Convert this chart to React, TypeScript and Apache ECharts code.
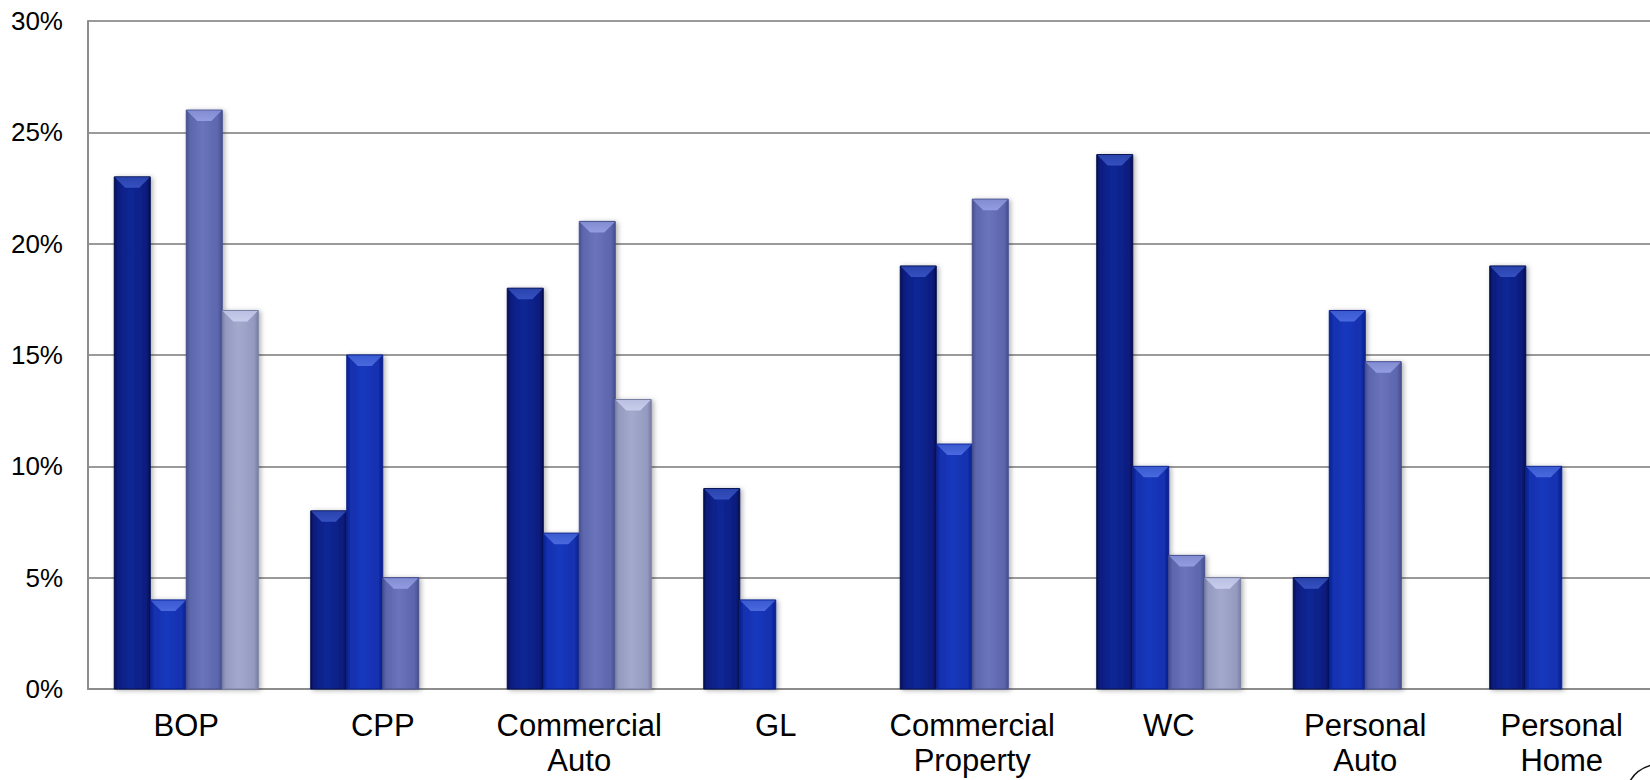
import React, { useEffect, useRef } from "react";
import * as echarts from "echarts";

// Lines of business on the category axis
const categories = [
  "BOP",
  "CPP",
  "Commercial\nAuto",
  "GL",
  "Commercial\nProperty",
  "WC",
  "Personal\nAuto",
  "Personal\nHome",
];

// Percent values per series (null = no bar drawn)
const seriesA: (number | null)[] = [23, 8, 18, 9, 19, 24, 5, 19];
const seriesB: (number | null)[] = [4, 15, 7, 4, 11, 10, 17, 10];
const seriesC: (number | null)[] = [26, 5, 21, null, 22, 6, 14.7, null];
const seriesD: (number | null)[] = [17, null, 13, null, null, 5, null, null];

// Value-axis ticks (percent)
const yTicks = [0, 5, 10, 15, 20, 25, 30];

type Palette = {
  edge: string;
  body: string;
  light: string;
  bevelTop: string;
  bevelBottom: string;
};

const palettes: Palette[] = [
  { edge: "#05104f", body: "#0a1d80", light: "#112795", bevelTop: "#2a44ad", bevelBottom: "#3550c0" },
  { edge: "#0a1f8c", body: "#1230ae", light: "#1838bd", bevelTop: "#3a5ad0", bevelBottom: "#4a69de" },
  { edge: "#464f8f", body: "#5c66ac", light: "#6a74bb", bevelTop: "#828cd2", bevelBottom: "#929cdf" },
  { edge: "#787fa6", body: "#959bc0", light: "#a3a9cc", bevelTop: "#bac0e2", bevelBottom: "#c8cdec" },
];

const allSeries = [seriesA, seriesB, seriesC, seriesD];
const seriesNames = ["A", "B", "C", "D"];

// Bar width as a share of one category band, and slot count per band
const BAR_SHARE = 36 / 196.5;
const SLOTS = 4;

function makeRenderItem(slot: number, pal: Palette) {
  return (_params: any, api: any) => {
    const cat = api.value(0);
    const val = api.value(1);
    const top = api.coord([cat, val]);
    const base = api.coord([cat, 0]);
    const band = api.size([1, 0])[0];
    const w = band * BAR_SHARE;
    const x0 = top[0] + (slot - (SLOTS - 1) / 2) * w - w / 2;
    const yTop = top[1];
    const yBase = base[1];
    const h = yBase - yTop;
    const b = Math.max(0, Math.min(11, h / 2, w / 2 - 3));
    return {
      type: "group",
      children: [
        {
          type: "rect",
          shape: { x: x0, y: yTop, width: w, height: h },
          style: {
            fill: {
              type: "linear",
              x: 0,
              y: 0,
              x2: 1,
              y2: 0,
              colorStops: [
                { offset: 0, color: pal.edge },
                { offset: 0.1, color: pal.body },
                { offset: 0.45, color: pal.light },
                { offset: 0.88, color: pal.body },
                { offset: 1, color: pal.edge },
              ],
            },
            stroke: pal.edge,
            lineWidth: 1,
            shadowBlur: 5,
            shadowOffsetX: 2,
            shadowOffsetY: 1,
            shadowColor: "rgba(0,0,0,0.3)",
          },
        },
        {
          type: "polygon",
          shape: {
            points: [
              [x0 + 0.5, yTop + 0.5],
              [x0 + w - 0.5, yTop + 0.5],
              [x0 + w - b, yTop + b],
              [x0 + b, yTop + b],
            ],
          },
          style: {
            fill: {
              type: "linear",
              x: 0,
              y: 0,
              x2: 0,
              y2: 1,
              colorStops: [
                { offset: 0, color: pal.bevelTop },
                { offset: 1, color: pal.bevelBottom },
              ],
            },
          },
        },
      ],
    };
  };
}

export default function App() {
  const ref = useRef<HTMLDivElement>(null);

  useEffect(() => {
    if (!ref.current) return;
    const chart = echarts.init(ref.current, undefined, { renderer: "svg" });
    const yStep = yTicks[1] - yTicks[0];
    const option: any = {
      animation: false,
      backgroundColor: "#ffffff",
      textStyle: { fontFamily: "'Liberation Sans', Arial, sans-serif" },
      grid: {
        left: 88,
        top: 21,
        width: 1572,
        height: 668,
        outerBoundsMode: "none",
        containLabel: false,
      },
      xAxis: {
        type: "category",
        data: categories,
        axisTick: { show: false },
        axisLine: { lineStyle: { color: "#8c8c8c", width: 2 } },
        axisLabel: {
          interval: 0,
          color: "#000000",
          fontSize: 31,
          lineHeight: 35,
          margin: 19,
          fontFamily: "'Liberation Sans', Arial, sans-serif",
        },
      },
      yAxis: {
        type: "value",
        min: yTicks[0],
        max: yTicks[yTicks.length - 1],
        interval: yStep,
        axisLine: { show: true, lineStyle: { color: "#8c8c8c", width: 2 } },
        axisTick: { show: false },
        splitLine: { lineStyle: { color: "#9a9a9a", width: 2 } },
        axisLabel: {
          formatter: "{value}%",
          color: "#000000",
          fontSize: 26,
          margin: 25,
          fontFamily: "'Liberation Sans', Arial, sans-serif",
        },
      },
      series: allSeries.map((vals, slot) => ({
        type: "custom",
        name: seriesNames[slot],
        coordinateSystem: "cartesian2d",
        renderItem: makeRenderItem(slot, palettes[slot]),
        encode: { x: 0, y: 1 },
        data: vals
          .map((v, i) => (v === null ? null : [i, v]))
          .filter((d) => d !== null),
        z: 2,
      })),
      graphic: [
        {
          type: "bezierCurve",
          shape: { x1: 1630, y1: 781, x2: 1652, y2: 765, cpx1: 1637, cpy1: 769 },
          style: { stroke: "#111111", lineWidth: 1.5, fill: "none" },
        },
      ],
    };
    chart.setOption(option);
    return () => chart.dispose();
  }, []);

  return (
    <div
      style={{
        position: "absolute",
        left: 0,
        top: 0,
        width: 1650,
        height: 780,
        overflow: "hidden",
        background: "#ffffff",
      }}
    >
      <div ref={ref} style={{ width: 1690, height: 780 }} />
    </div>
  );
}
